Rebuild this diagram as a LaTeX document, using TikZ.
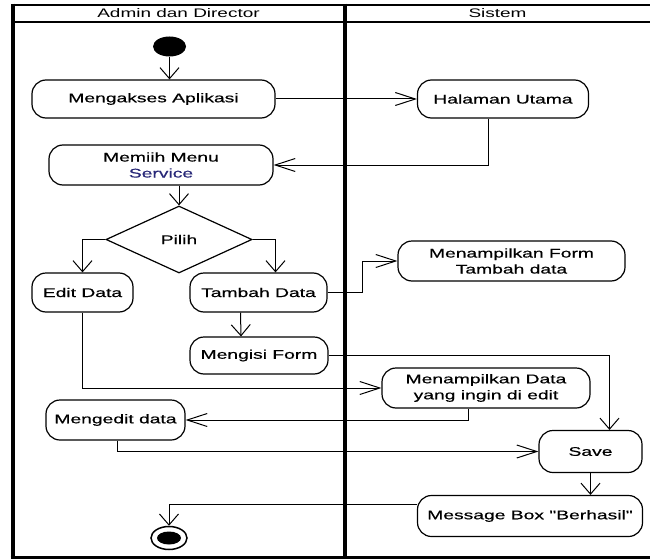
\documentclass[tikz,border=0pt]{standalone}
\usepackage{fontspec}
\setmainfont{Liberation Sans}[FakeStretch=1.53]
\newfontfamily\nodefont{Liberation Sans}[FakeStretch=1.53,FakeBold=0.5]
\usetikzlibrary{arrows.meta,shapes.geometric}
\definecolor{svc}{RGB}{40,40,120}
\begin{document}
\begin{tikzpicture}[x=1pt,y=-1pt,
  act/.style={draw, line width=1.2pt, rounded corners=14pt, align=center, inner sep=0pt, font=\nodefont\fontsize{12.6}{16}\selectfont},
  lbl/.style={font=\fontsize{12.4}{14}\selectfont, inner sep=0pt},
  conn/.style={line width=1pt},
  harr/.style={conn, -{Straight Barb[length=20pt,width=13pt]}},
  varr/.style={conn, -{Straight Barb[length=11pt,width=19pt]}},
]
\useasboundingbox (0,0) rectangle (650,559);
% frame
\draw[line width=2.5pt] (11,5) -- (650,5);
\draw[line width=2.5pt] (11,22) -- (650,22);
\draw[line width=3pt] (10.5,557.5) -- (650,557.5);
\draw[line width=4pt] (12.5,3.75) -- (12.5,559);
\draw[line width=4pt] (345,3.75) -- (345,556);
\node[lbl] (hl) at (178.5,13.5) {Admin dan Director};
\node[lbl] (hr) at (497.5,13.5) {Sistem};
% nodes
\node[ellipse, fill, minimum width=33pt, minimum height=20pt, inner sep=0pt] (st) at (169.5,46.5) {};
\node[act, minimum width=243pt, minimum height=38pt] (a1) at (153.5,99) {Mengakses Aplikasi};
\node[act, minimum width=171pt, minimum height=38pt] (h1) at (503,99) {Halaman Utama};
\node[act, minimum width=224pt, minimum height=40pt] (m1) at (161,165) {Memiih Menu\\\textcolor{svc}{Service}};
\node[diamond, draw, line width=1.2pt, minimum width=146pt, minimum height=67pt, inner sep=0pt, font=\nodefont\fontsize{12.6}{16}\selectfont] (d) at (179,239.5) {Pilih};
\node[act, minimum width=101pt, minimum height=39pt] (e1) at (82.5,292.5) {Edit Data};
\node[act, minimum width=137pt, minimum height=39pt] (t1) at (258.5,292.5) {Tambah Data};
\node[act, minimum width=227pt, minimum height=40pt] (f1) at (511.5,261) {Menampilkan Form\\Tambah data};
\node[act, minimum width=138pt, minimum height=37pt] (g1) at (259,355.5) {Mengisi Form};
\node[act, minimum width=208pt, minimum height=40pt] (v1) at (486,388) {Menampilkan Data\\yang ingin di edit};
\node[act, minimum width=139pt, minimum height=40pt] (ed) at (115.5,420) {Mengedit data};
\node[act, minimum width=103pt, minimum height=42pt] (s) at (590.5,451.5) {Save};
\node[act, minimum width=225pt, minimum height=41pt] (mb) at (530,516) {Message Box "Berhasil"};
\node[ellipse, draw, line width=1.5pt, minimum width=36pt, minimum height=23pt, inner sep=0pt] (en) at (169,538) {};
\node[ellipse, fill, minimum width=24pt, minimum height=13pt, inner sep=0pt] (eni) at (en) {};
% connectors
\draw[varr] (st) -- (st |- a1.north);
\draw[harr] (a1) -- (h1);
\draw[harr] ([xshift=-15pt]h1.south) |- (m1.east);
\draw[varr] (d.north |- m1.south) -- (d.north);
\draw[varr] (d.west) -| (e1.north);
\draw[varr] (d.east) -| ([xshift=17pt]t1.north);
\draw[harr] (t1.east) -- ++(35,0) |- (f1.west);
\draw[varr] ([xshift=-18pt]t1.south) -- ([xshift=-18pt]g1.north);
\draw[varr] (g1.east) -| ([xshift=19pt]s.north);
\draw[harr] (e1.south) |- (v1.west);
\draw[harr] ([xshift=-18pt]v1.south) |- (ed.east);
\draw[harr] ([xshift=2pt]ed.south) |- (s.west);
\draw[varr] (s.south) -- (s.south |- mb.north);
\draw[varr] ([yshift=12pt]mb.west) -| (en.north);
\end{tikzpicture}
\end{document}
